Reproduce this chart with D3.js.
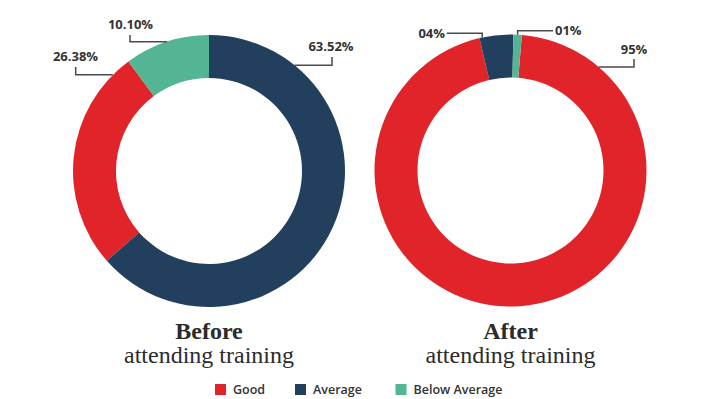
<!DOCTYPE html>
<html>
<head>
<meta charset="utf-8">
<script src="https://cdn.jsdelivr.net/npm/d3@7"></script>
<style>
  html, body { margin: 0; padding: 0; background: #ffffff; }
  svg { display: block; }
</style>
</head>
<body>
<svg id="chart" width="701" height="399"></svg>
<script>
// ---- data ----
const categories = ["Good", "Average", "Below Average"];
const colors = ["#e1232a", "#22405d", "#53b594"];
const beforeValues = [26.38, 63.52, 10.10];
const afterValues = [95, 4, 1];
const beforeLabels = ["26.38%", "63.52%", "10.10%"];
const afterLabels = ["95%", "04%", "01%"];
const titles = ["Before", "After"];
const subtitle = "attending training";

// drawing order of slices (clockwise from top) for each donut
const beforeOrder = ["Average", "Good", "Below Average"];
const afterOrder = ["Below Average", "Good", "Average"];

const svg = d3.select("#chart");
const color = d3.scaleOrdinal().domain(categories).range(colors);

const outerR = 136, innerR = 93;
const charts = [
  { cx: 209, cy: 171, values: beforeValues, labels: beforeLabels, order: beforeOrder, offset: 0, title: titles[0],
    leaders: {
      "Average":       { a: 39,  path: [[123, null], [123, -114]], tx: 122, ty: -120, anchor: "middle" },
      "Below Average": { a: -18, path: [[-79, null], [-79, -136]], tx: -78.5, ty: -142.5, anchor: "middle" },
      "Good":          { a: -45, path: [[-133.3, null], [-133.3, -104]], tx: -133.5, ty: -110, anchor: "middle" }
    } },
  { cx: 510.5, cy: 170.5, values: afterValues, labels: afterLabels, order: afterOrder, offset: 1.2, title: titles[1],
    leaders: {
      "Good":          { a: 40.4, path: [[123.5, null], [123.5, -111.5]], tx: 123.5, ty: -117, anchor: "middle" },
      "Average":       { a: -12,  path: [[null, -137.2], [-63.8, -137.2]], tx: -65.5, ty: -133, anchor: "end" },
      "Below Average": { a: 3,    path: [[null, -139.8], [42.5, -139.8]], tx: 44.5, ty: -135.5, anchor: "start" }
    } }
];

const arc = d3.arc().innerRadius(innerR).outerRadius(outerR);
const rad = d => d * Math.PI / 180;

charts.forEach(ch => {
  const data = categories.map((c, i) => ({ cat: c, value: ch.values[i], label: ch.labels[i] }));
  const pie = d3.pie()
    .value(d => d.value)
    .sort((a, b) => ch.order.indexOf(a.cat) - ch.order.indexOf(b.cat))
    .startAngle(rad(ch.offset))
    .endAngle(rad(ch.offset) + 2 * Math.PI);
  const g = svg.append("g").attr("transform", `translate(${ch.cx},${ch.cy})`);

  g.selectAll("path.slice")
    .data(pie(data))
    .join("path")
    .attr("class", "slice")
    .attr("d", arc)
    .attr("fill", d => color(d.data.cat));

  // leader lines + labels
  data.forEach(d => {
    const L = ch.leaders[d.cat];
    const sx = outerR * Math.sin(rad(L.a));
    const sy = -outerR * Math.cos(rad(L.a));
    const pts = [[sx, sy]];
    L.path.forEach(p => pts.push([p[0] === null ? sx : p[0], p[1] === null ? sy : p[1]]));
    g.append("path")
      .attr("d", d3.line()(pts))
      .attr("fill", "none")
      .attr("stroke", "#4a4a4a")
      .attr("stroke-width", 1.5);
    g.append("text")
      .attr("x", L.tx)
      .attr("y", L.ty)
      .attr("text-anchor", L.anchor)
      .attr("font-family", "'Open Sans', sans-serif")
      .attr("font-weight", 700)
      .attr("font-size", "13px")
      .attr("fill", "#333333")
      .text(d.label);
  });

  // titles
  svg.append("text")
    .attr("x", ch.cx).attr("y", 339)
    .attr("text-anchor", "middle")
    .attr("font-family", "'Liberation Serif', 'Times New Roman', serif")
    .attr("font-weight", 700)
    .attr("font-size", "24px")
    .attr("fill", "#2b2b2b")
    .text(ch.title);
  svg.append("text")
    .attr("x", ch.cx).attr("y", 363)
    .attr("text-anchor", "middle")
    .attr("font-family", "'Liberation Serif', 'Times New Roman', serif")
    .attr("font-size", "24px")
    .attr("fill", "#2b2b2b")
    .text(subtitle);
});

// legend
const legendX = [215, 295, 395.5];
const lg = svg.append("g");
categories.forEach((c, i) => {
  lg.append("rect")
    .attr("x", legendX[i]).attr("y", 384)
    .attr("width", 11).attr("height", 11)
    .attr("fill", color(c));
  lg.append("text")
    .attr("x", legendX[i] + 18).attr("y", 394)
    .attr("font-family", "'Open Sans', sans-serif")
    .attr("font-weight", 600)
    .attr("font-size", "12.5px")
    .attr("fill", "#333333")
    .text(c);
});
</script>
</body>
</html>
